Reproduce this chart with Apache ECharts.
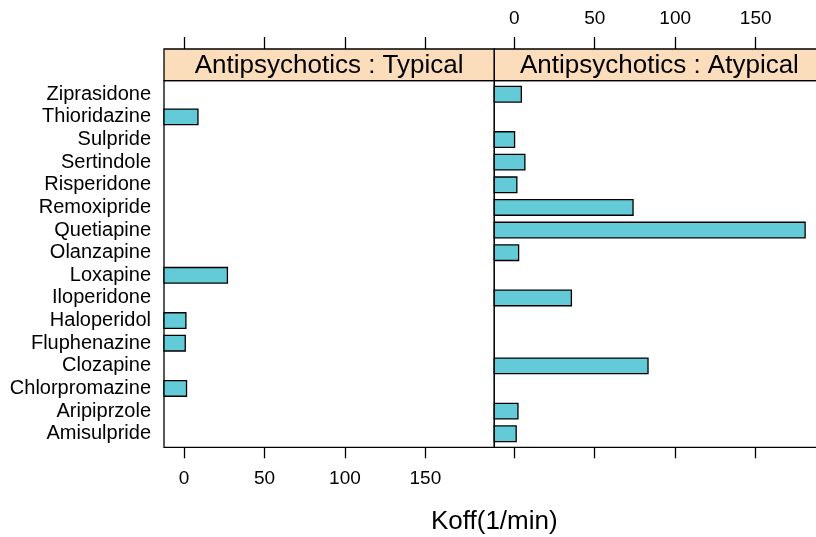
<!DOCTYPE html>
<html>
<head>
<meta charset="utf-8">
<script src="https://cdn.jsdelivr.net/npm/echarts@6/dist/echarts.min.js"></script>
<style>html,body{margin:0;padding:0;background:#fff}#c{width:816px;height:537px}</style>
</head>
<body>
<div id="c"></div>
<script>
// ---- data ----
const categories = ['Amisulpride','Aripiprzole','Chlorpromazine','Clozapine','Fluphenazine','Haloperidol','Iloperidone','Loxapine','Olanzapine','Quetiapine','Remoxipride','Risperidone','Sertindole','Sulpride','Thioridazine','Ziprasidone'];
const panelTitles = ['Antipsychotics : Typical', 'Antipsychotics : Atypical'];
const typicalDrugs = ['Thioridazine','Loxapine','Haloperidol','Fluphenazine','Chlorpromazine'];
const typicalKoff = [8.7, 27.0, 1.2, 0.8, 1.6];
const atypicalDrugs = ['Ziprasidone','Sulpride','Sertindole','Risperidone','Remoxipride','Quetiapine','Olanzapine','Iloperidone','Clozapine','Aripiprzole','Amisulpride'];
const atypicalKoff = [4.4, 0.2, 6.6, 1.6, 73.8, 180.7, 2.7, 35.5, 83.1, 2.3, 1.2];
const xTicks = [0, 50, 100, 150];
const xLabel = 'Koff(1/min)';

// ---- layout ----
const FONT = "'Liberation Sans', Arial, Helvetica, sans-serif";
const X_MIN = -12.4, X_MAX = 192.8;
const PANEL_LEFT = [164, 494.3], PANEL_W = 330.3;
const PANEL_TOP = 80.7, PANEL_H = 366.6;
const STRIP_TOP = 49, STRIP_H = 31.7;
const BAR_FILL = '#63CAD8', STRIP_FILL = '#FBDDBB';

const chart = echarts.init(document.getElementById('c'), null, {renderer: 'canvas'});

function toData(names, vals) {
  return names.map((n, i) => [vals[i], categories.indexOf(n) + 1]);
}
function renderBar(params, api) {
  const v = api.value(0), y = api.value(1);
  const p0 = api.coord([X_MIN, y]);
  const p1 = api.coord([v, y]);
  const h = api.size([0, 0.69])[1];
  return {
    type: 'rect',
    shape: {x: p0[0], y: p0[1] - h / 2, width: p1[0] - p0[0], height: h},
    style: {fill: BAR_FILL, stroke: '#000', lineWidth: 1.3}
  };
}

const grids = [], xAxes = [], yAxes = [];
for (let p = 0; p < 2; p++) {
  grids.push({left: PANEL_LEFT[p], top: PANEL_TOP, width: PANEL_W, height: PANEL_H,
    show: true, borderColor: '#000', borderWidth: 1.3, backgroundColor: '#fff',
    containLabel: false, outerBoundsMode: 'none'});
}
for (let p = 0; p < 2; p++) {
  grids.push({left: PANEL_LEFT[p], top: STRIP_TOP, width: PANEL_W, height: STRIP_H,
    show: true, borderColor: '#000', borderWidth: 1.3, backgroundColor: STRIP_FILL,
    containLabel: false, outerBoundsMode: 'none'});
}
// bottom axes (panels)
for (let p = 0; p < 2; p++) {
  xAxes.push({gridIndex: p, type: 'value', position: 'bottom', min: X_MIN, max: X_MAX,
    axisLine: {show: false, onZero: false}, splitLine: {show: false},
    axisTick: {show: true, inside: false, length: 11, customValues: xTicks, lineStyle: {color: '#000', width: 1.3}},
    axisLabel: {show: p === 0, customValues: xTicks, margin: 22, color: '#000', fontSize: 19, fontFamily: FONT}
  });
  yAxes.push({gridIndex: p, type: 'value', min: 0.4, max: 16.6,
    axisLine: {show: false, onZero: false}, splitLine: {show: false}, axisTick: {show: false},
    axisLabel: {show: p === 0, customValues: categories.map((c, i) => i + 1),
      formatter: v => categories[Math.round(v) - 1] || '', margin: 13, color: '#000', fontSize: 20, fontFamily: FONT}
  });
}
// top axes (strips)
for (let p = 0; p < 2; p++) {
  xAxes.push({gridIndex: 2 + p, type: 'value', position: 'top', min: X_MIN, max: X_MAX,
    axisLine: {show: false, onZero: false}, splitLine: {show: false},
    axisTick: {show: true, inside: false, length: 12, customValues: xTicks, lineStyle: {color: '#000', width: 1.3}},
    axisLabel: {show: p === 1, customValues: xTicks, margin: 21, color: '#000', fontSize: 19, fontFamily: FONT}
  });
  yAxes.push({gridIndex: 2 + p, type: 'value', min: 0, max: 1, show: false, axisLine: {onZero: false}});
}

const graphics = panelTitles.map((t, p) => ({
  type: 'text', x: PANEL_LEFT[p] + PANEL_W / 2, y: STRIP_TOP + STRIP_H / 2 + 1,
  style: {text: t, font: '26px ' + FONT, fill: '#000', textAlign: 'center', textVerticalAlign: 'middle'},
  z: 10
}));
graphics.push({type: 'text', x: PANEL_LEFT[1], y: 522,
  style: {text: xLabel, font: '26px ' + FONT, fill: '#000', textAlign: 'center', textVerticalAlign: 'middle'}});

chart.setOption({
  animation: false,
  backgroundColor: '#fff',
  grid: grids,
  xAxis: xAxes,
  yAxis: yAxes,
  graphic: graphics,
  series: [
    {type: 'custom', xAxisIndex: 0, yAxisIndex: 0, renderItem: renderBar, encode: {x: 0, y: 1},
      data: toData(typicalDrugs, typicalKoff), clip: false},
    {type: 'custom', xAxisIndex: 1, yAxisIndex: 1, renderItem: renderBar, encode: {x: 0, y: 1},
      data: toData(atypicalDrugs, atypicalKoff), clip: false}
  ]
});
</script>
</body>
</html>
